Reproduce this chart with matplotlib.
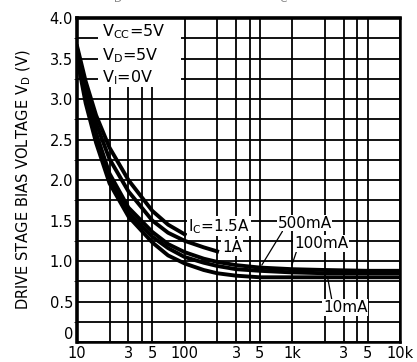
import matplotlib.pyplot as plt
import numpy as np

# curve data (x read along the log axis, y = V_D in volts)
i_pts = [10, 12, 15, 20, 30, 50, 70, 100, 150, 200, 300, 500, 1000, 2000, 5000, 10000]
v_15a = [3.65, 3.22, 2.80, 2.40, 2.00, 1.62, 1.45, 1.33]
v_1a = [3.62, 3.15, 2.70, 2.26, 1.86, 1.50, 1.35, 1.25, 1.17, 1.12]
v_500ma = [3.58, 3.05, 2.58, 2.08, 1.66, 1.36, 1.21, 1.11, 1.03, 0.99, 0.95, 0.92, 0.90, 0.89, 0.88, 0.88]
v_100ma = [3.55, 3.00, 2.52, 2.02, 1.60, 1.30, 1.16, 1.05, 0.98, 0.94, 0.90, 0.88, 0.86, 0.85, 0.85, 0.85]
v_10ma = [3.50, 2.95, 2.46, 1.96, 1.55, 1.23, 1.07, 0.97, 0.89, 0.85, 0.82, 0.80, 0.80, 0.80, 0.80, 0.80]

xticks = [10, 20, 30, 40, 50, 100, 200, 300, 400, 500, 1000, 2000, 3000, 4000, 5000, 10000]
xlabels = ['10', '', '3', '', '5', '100', '', '3', '', '5', '1k', '', '3', '', '5', '10k']
yticks = [0, 0.5, 1.0, 1.5, 2.0, 2.5, 3.0, 3.5, 4.0]
ylabels = ['0', '0.5', '1.0', '1.5', '2.0', '2.5', '3.0', '3.5', '4.0']

fig = plt.figure(figsize=(4.17, 3.62), dpi=100)
ax = fig.add_axes([0.185, 0.055, 0.774, 0.895])

ax.set_xscale('log')
ax.set_xlim(10, 10000)
ax.set_ylim(0, 4.0)
ax.set_xticks(xticks)
ax.set_xticklabels(xlabels, fontsize=10.5)
ax.minorticks_off()
ax.set_yticks(np.arange(0, 4.01, 0.25), minor=True)
ax.set_yticks(yticks)
ax.set_yticklabels(ylabels, fontsize=10.5)
ax.get_yticklabels()[0].set_va('bottom')
ax.tick_params(length=0, pad=3)
ax.tick_params(axis='x', pad=3)
ax.grid(True, which='both', color='black', linewidth=1.3)
ax.set_axisbelow(True)
for s in ['left', 'top']:
    ax.spines[s].set_linewidth(2.6)
for s in ['right', 'bottom']:
    ax.spines[s].set_linewidth(1.8)

ax.set_ylabel(r'DRIVE STAGE BIAS VOLTAGE V$_\mathrm{D}$ (V)', fontsize=10.5, labelpad=12)

# white area behind the conditions text
ax.fill_between([15.5, 92], 3.15, 4.0, color='white', zorder=1, linewidth=0)
ax.text(17.0, 3.83, r'V$_\mathrm{CC}$=5V', fontsize=11.5, va='center', zorder=2)
ax.text(17.0, 3.54, r'V$_\mathrm{D}$=5V', fontsize=11.5, va='center', zorder=2)
ax.text(17.0, 3.27, r'V$_\mathrm{I}$=0V', fontsize=11.5, va='center', zorder=2)

lw = 2.8
ax.plot(i_pts[:len(v_15a)], v_15a, color='black', lw=lw, zorder=3)
ax.plot(i_pts[:len(v_1a)], v_1a, color='black', lw=lw, zorder=3)
ax.plot(i_pts, v_500ma, color='black', lw=lw, zorder=3)
ax.plot(i_pts, v_100ma, color='black', lw=lw, zorder=3)
ax.plot(i_pts, v_10ma, color='black', lw=lw, zorder=3)

box = dict(facecolor='white', edgecolor='none', pad=0.5)
ax.text(208, 1.43, r'I$_\mathrm{C}$=1.5A', fontsize=11, ha='center', va='center', bbox=box, zorder=4)
ax.text(275, 1.17, '1A', fontsize=11, ha='center', va='center', bbox=box, zorder=4)
ax.annotate('500mA', xy=(520, 0.95), xytext=(1300, 1.47), fontsize=11,
            ha='center', va='center', bbox=box, zorder=4,
            arrowprops=dict(arrowstyle='-', color='black', lw=0.9, shrinkA=0, shrinkB=0,
                            relpos=(0.1, 0.0)))
ax.annotate('100mA', xy=(990, 0.95), xytext=(1850, 1.22), fontsize=11,
            ha='center', va='center', bbox=box, zorder=4,
            arrowprops=dict(arrowstyle='-', color='black', lw=0.9, shrinkA=0, shrinkB=0,
                            relpos=(0.05, 0.0)))
ax.annotate('10mA', xy=(2140, 0.78), xytext=(3100, 0.43), fontsize=11,
            ha='center', va='center', bbox=box, zorder=4,
            arrowprops=dict(arrowstyle='-', color='black', lw=0.9, shrinkA=0, shrinkB=0,
                            relpos=(0.2, 1.0)))

fig.text(0.47, 1.012, r'V$_\mathrm{D}$ — DRIVE STAGE — I$_\mathrm{C}$', fontsize=11,
         color='#888888', ha='center', va='center')

fig.savefig('out.png', dpi=100)
